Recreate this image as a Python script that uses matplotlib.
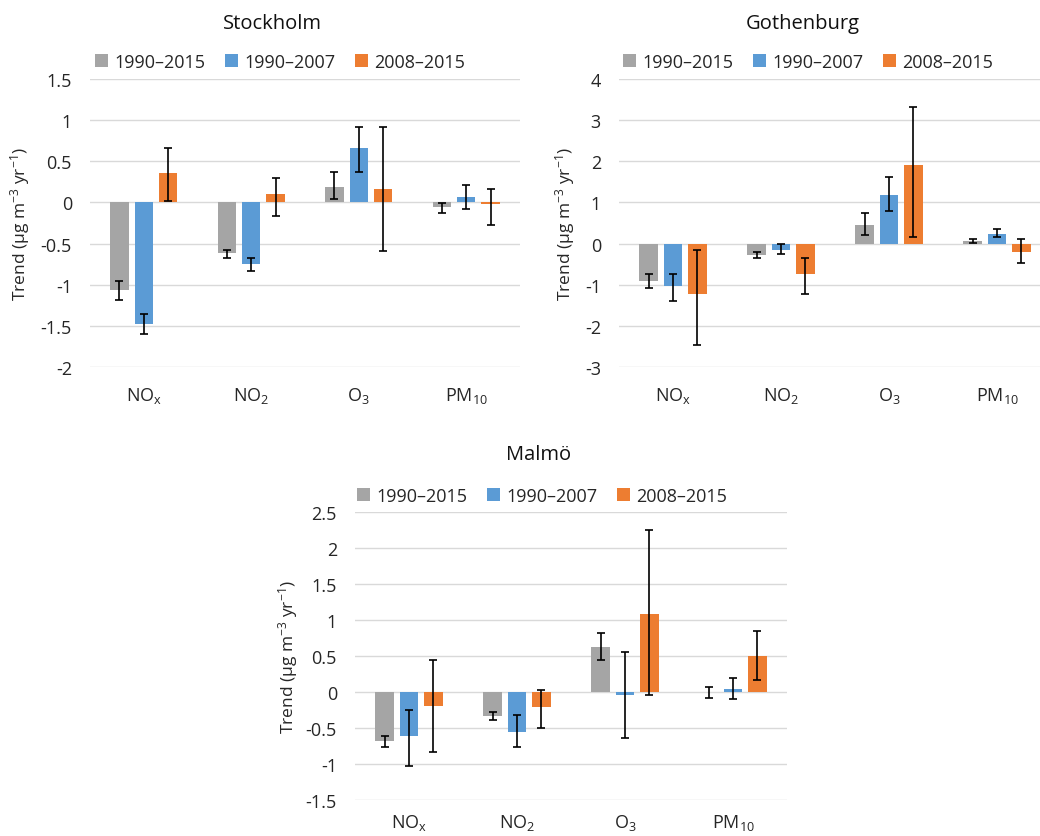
import numpy as np
import matplotlib.pyplot as plt

plt.rcParams['font.family'] = ['Open Sans', 'DejaVu Sans']
plt.rcParams['mathtext.fontset'] = 'custom'
plt.rcParams['mathtext.rm'] = 'Open Sans'
plt.rcParams['mathtext.it'] = 'Open Sans:italic'

pollutants = ['NO$_\\mathrm{x}$', 'NO$_2$', 'O$_3$', 'PM$_{10}$']
periods = ['1990–2015', '1990–2007', '2008–2015']
colors = ['#A5A5A5', '#5B9BD5', '#ED7D31']

# trend values and confidence bounds, one row per period
sthlm_val = [[-1.07, -0.61, 0.19, -0.06],
             [-1.48, -0.75, 0.66, 0.06],
             [0.36, 0.10, 0.16, -0.02]]
sthlm_lo = [[-1.18, -0.67, 0.04, -0.13],
            [-1.60, -0.83, 0.37, -0.08],
            [0.02, -0.16, -0.59, -0.27]]
sthlm_hi = [[-0.96, -0.575, 0.37, -0.01],
            [-1.35, -0.67, 0.92, 0.215],
            [0.66, 0.30, 0.92, 0.16]]

gbg_val = [[-0.92, -0.28, 0.46, 0.065],
           [-1.04, -0.15, 1.19, 0.24],
           [-1.22, -0.73, 1.90, -0.21]]
gbg_lo = [[-1.09, -0.36, 0.21, 0.016],
          [-1.40, -0.26, 0.80, 0.17],
          [-2.47, -1.22, 0.17, -0.48]]
gbg_hi = [[-0.73, -0.21, 0.75, 0.12],
          [-0.73, -0.02, 1.61, 0.35],
          [-0.15, -0.35, 3.32, 0.11]]

malmo_val = [[-0.68, -0.33, 0.63, 0.0],
             [-0.61, -0.556, -0.046, 0.042],
             [-0.194, -0.213, 1.09, 0.50]]
malmo_lo = [[-0.764, -0.384, 0.45, -0.08],
            [-1.03, -0.76, -0.643, -0.10],
            [-0.84, -0.495, -0.046, 0.167]]
malmo_hi = [[-0.606, -0.28, 0.824, 0.07],
            [-0.255, -0.32, 0.55, 0.195],
            [0.44, 0.023, 2.245, 0.85]]

W, H = 1040, 837
fig = plt.figure(figsize=(W / 100, H / 100), dpi=100)


def px_axes(x0, y0, w, h):
    return fig.add_axes([x0 / W, 1 - (y0 + h) / H, w / W, h / H])


def draw_panel(ax, title, title_xy, leg_xy, vals, lo, hi, ylim, step, ylab_x, xpad=13):
    x = np.arange(len(pollutants))
    offs = [-0.226, 0, 0.226]
    for i in range(3):
        v = np.array(vals[i])
        err = [v - np.array(lo[i]), np.array(hi[i]) - v]
        ax.bar(x + offs[i], v, 0.17, color=colors[i], label=periods[i], zorder=2)
        ax.errorbar(x + offs[i], v, yerr=err, fmt='none', ecolor='black',
                    elinewidth=1.2, capsize=3, capthick=1.2, zorder=3)
    ax.set_xlim(-0.5, 3.5)
    ax.set_ylim(*ylim)
    ticks = np.arange(ylim[0], ylim[1] + step / 2, step)
    ax.set_yticks(ticks)
    ax.set_yticklabels([f'{t:g}' for t in ticks])
    ax.set_xticks(x)
    ax.set_xticklabels(pollutants)
    ax.grid(axis='y', color='#d9d9d9', linewidth=1, zorder=0)
    ax.set_axisbelow(True)
    for s in ax.spines.values():
        s.set_visible(False)
    ax.tick_params(axis='both', length=0, labelsize=13, colors='#262626')
    ax.tick_params(axis='y', pad=13)
    ax.tick_params(axis='x', pad=xpad)
    ax.set_ylabel('Trend (µg m$^{-3}$ yr$^{-1}$)', fontsize=12.5, color='#262626')
    ax.yaxis.set_label_coords(ylab_x, 0.5)
    fig.text(title_xy[0] / W, 1 - title_xy[1] / H, title, fontsize=14.5,
             ha='center', va='center', color='#111111')
    ax.legend(loc='center', bbox_to_anchor=(leg_xy[0] / W, 1 - leg_xy[1] / H),
              bbox_transform=fig.transFigure, ncol=3, frameon=False, fontsize=13,
              handlelength=0.7, handleheight=0.7, handletextpad=0.35,
              columnspacing=1.1, labelcolor='#262626')


ax1 = px_axes(90, 80, 430, 288)
draw_panel(ax1, 'Stockholm', (272, 24), (280, 63), sthlm_val, sthlm_lo, sthlm_hi,
           (-2, 1.5), 0.5, -0.135)

ax2 = px_axes(619, 80, 432, 288)
draw_panel(ax2, 'Gothenburg', (803, 24), (808, 63), gbg_val, gbg_lo, gbg_hi,
           (-3, 4), 1, -0.097)

ax3 = px_axes(355, 513, 432, 288)
draw_panel(ax3, 'Malmö', (539, 455), (542, 497), malmo_val, malmo_lo, malmo_hi,
           (-1.5, 2.5), 0.5, -0.127, xpad=9)

fig.savefig('out.png', dpi=100)
